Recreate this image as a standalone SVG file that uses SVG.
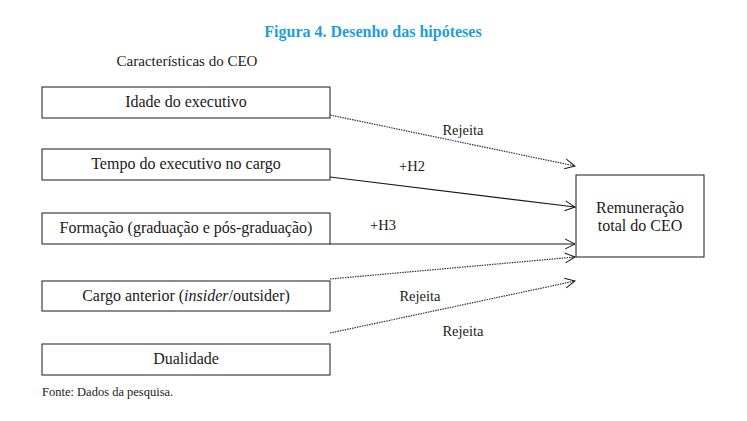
<svg xmlns="http://www.w3.org/2000/svg" width="747" height="421" viewBox="0 0 747 421">
<defs>
<style>
.box{fill:#fff;stroke:#1a1a1a;stroke-width:1}
.t{font-family:"Liberation Serif","DejaVu Serif",serif;font-size:16px;fill:#1a1a1a;text-anchor:middle}
.lab{font-family:"Liberation Serif","DejaVu Serif",serif;font-size:14.5px;fill:#1a1a1a;text-anchor:middle}
.title{font-family:"Liberation Serif","DejaVu Serif",serif;font-size:16px;font-weight:bold;fill:#1aa0dc;text-anchor:middle}
.src{font-family:"Liberation Serif","DejaVu Serif",serif;font-size:12.5px;fill:#1a1a1a}
.solid{stroke:#1a1a1a;stroke-width:1.2;fill:none}
.dot{stroke:#333;stroke-width:1.2;fill:none;stroke-dasharray:1.5 1}
</style>
<marker id="ah" viewBox="0 0 12 12" refX="11" refY="6" markerWidth="12" markerHeight="12" markerUnits="userSpaceOnUse" orient="auto">
<path d="M1,1 L11,6 L1,11" fill="none" stroke="#1a1a1a" stroke-width="1"/>
</marker>
</defs>
<rect width="747" height="421" fill="#fff"/>
<text class="title" x="373" y="37">Figura 4. Desenho das hipóteses</text>
<text class="t" x="187" y="66" style="font-size:15px">Características do CEO</text>
<g id="n1"><rect class="box" x="42" y="87" width="288" height="31"/><text class="t" x="186" y="107">Idade do executivo</text></g>
<g id="n2"><rect class="box" x="42" y="149" width="288" height="31"/><text class="t" x="186" y="169">Tempo do executivo no cargo</text></g>
<g id="n3"><rect class="box" x="42" y="213" width="288" height="31"/><text class="t" x="186" y="233">Formação (graduação e pós-graduação)</text></g>
<g id="n4"><rect class="box" x="42" y="281" width="288" height="30"/><text class="t" x="186" y="301">Cargo anterior (<tspan font-style="italic">insider</tspan>/outsider)</text></g>
<g id="n5"><rect class="box" x="42" y="344" width="288" height="31"/><text class="t" x="186" y="364">Dualidade</text></g>
<g id="n6"><rect class="box" x="576" y="175" width="128" height="82"/><text class="t" x="640" y="213">Remuneração</text><text class="t" x="640" y="231">total do CEO</text></g>
<g id="connectors">
<line class="dot" x1="330" y1="115" x2="575" y2="166" marker-end="url(#ah)"/>
<line class="solid" x1="330" y1="177" x2="575" y2="207" marker-end="url(#ah)"/>
<line class="solid" x1="330" y1="244" x2="575" y2="244" marker-end="url(#ah)"/>
<line class="dot" x1="330" y1="279" x2="575" y2="257" marker-end="url(#ah)"/>
<line class="dot" x1="330" y1="333" x2="575" y2="281" marker-end="url(#ah)"/>
<text class="lab" x="463" y="135">Rejeita</text>
<text class="lab" x="412" y="171">+H2</text>
<text class="lab" x="383" y="230">+H3</text>
<text class="lab" x="420" y="301">Rejeita</text>
<text class="lab" x="463" y="336">Rejeita</text>
</g>
<text class="src" x="42" y="396">Fonte: Dados da pesquisa.</text>
</svg>
